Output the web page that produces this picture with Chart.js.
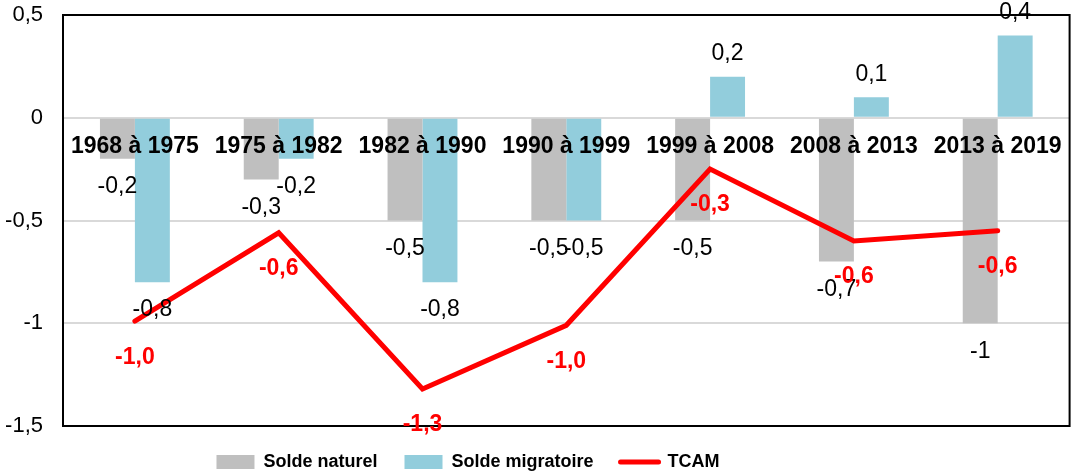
<!DOCTYPE html>
<html>
<head>
<meta charset="utf-8">
<script src="https://cdn.jsdelivr.net/npm/chart.js@4"></script>
<style>
html,body{margin:0;padding:0;background:#fff;}
#wrap{width:1077px;height:476px;position:relative;}
</style>
</head>
<body>
<div id="wrap"><canvas id="c"></canvas></div>
<script>
const categories = ['1968 à 1975','1975 à 1982','1982 à 1990','1990 à 1999','1999 à 2008','2008 à 2013','2013 à 2019'];
const soldeNaturel = [-0.2, -0.3, -0.5, -0.5, -0.5, -0.7, -1];
const soldeMigratoire = [-0.8, -0.2, -0.8, -0.5, 0.2, 0.1, 0.4];
const tcam = [-0.99, -0.56, -1.32, -1.01, -0.25, -0.60, -0.55];
const yTicks = [0.5, 0, -0.5, -1, -1.5];

const FONT = "'Liberation Sans', Arial, sans-serif";
const fmtGeneral = v => String(v).replace('.', ',');
const fmtOne = v => v.toFixed(1).replace('.', ',');

const labelPlugin = {
  id: 'labels',
  afterLayout(chart) {
    const lg = chart.legend;
    if (lg) { lg.left -= 68; lg.right -= 68; }
  },
  afterDraw(chart) {
    const ctx = chart.ctx;
    const a = chart.chartArea;
    ctx.save();
    ctx.strokeStyle = '#000';
    ctx.lineWidth = 2;
    ctx.strokeRect(a.left, a.top, a.right - a.left, a.bottom - a.top);
    ctx.textAlign = 'center';
    ctx.textBaseline = 'middle';
    chart.data.datasets.forEach((ds, di) => {
      const meta = chart.getDatasetMeta(di);
      meta.data.forEach((el, i) => {
        const v = ds.data[i];
        if (ds.type === 'line') {
          ctx.font = 'bold 23px ' + FONT;
          ctx.fillStyle = '#ff0000';
          ctx.fillText(fmtOne(v), el.x, el.y + 36);
        } else {
          ctx.font = '23px ' + FONT;
          ctx.fillStyle = '#000';
          const y = v < 0 ? el.y + 28 : el.y - 23;
          ctx.fillText(fmtGeneral(v), el.x, y);
        }
      });
    });
    ctx.restore();
  }
};

new Chart(document.getElementById('c'), {
  type: 'bar',
  data: {
    labels: categories,
    datasets: [
      { label: 'Solde naturel', data: soldeNaturel, backgroundColor: '#bfbfbf', categoryPercentage: 0.486, barPercentage: 1 },
      { label: 'Solde migratoire', data: soldeMigratoire, backgroundColor: '#92cddc', categoryPercentage: 0.486, barPercentage: 1 },
      { type: 'line', label: 'TCAM', data: tcam, borderColor: '#ff0000', backgroundColor: '#ff0000', borderWidth: 5, pointRadius: 0, pointHoverRadius: 0, borderCapStyle: 'round', borderJoinStyle: 'miter', tension: 0, order: -1 }
    ]
  },
  options: {
    responsive: true,
    maintainAspectRatio: false,
    animation: false,
    events: [],
    layout: { padding: { left: 0, right: 5, top: 15, bottom: -5 } },
    plugins: {
      tooltip: { enabled: false },
      legend: {
        position: 'bottom',
        labels: {
          font: { family: FONT, size: 18, weight: 'bold' },
          color: '#000',
          usePointStyle: true,
          pointStyleWidth: 38,
          boxHeight: 14,
          padding: 27,
          generateLabels(chart) {
            return chart.data.datasets.map((ds, i) => ({
              text: ds.label,
              fillStyle: ds.type === 'line' ? '#ff0000' : ds.backgroundColor,
              strokeStyle: ds.type === 'line' ? '#ff0000' : ds.backgroundColor,
              lineWidth: ds.type === 'line' ? 5 : 0,
              pointStyle: ds.type === 'line' ? 'line' : 'rect',
              lineCap: 'round',
              datasetIndex: i,
              hidden: false
            }));
          }
        }
      }
    },
    scales: {
      x: {
        position: { y: 0 },
        grid: { display: false, drawTicks: false },
        border: { display: false },
        ticks: { z: 1, font: { family: FONT, size: 23, weight: 'bold' }, color: '#000', padding: 15, autoSkip: false, maxRotation: 0 }
      },
      y: {
        min: -1.5, max: 0.5,
        afterBuildTicks(scale) { scale.ticks = yTicks.map(v => ({ value: v })); },
        afterFit(scale) { scale.width = 63; scale.paddingTop = 12; scale.paddingBottom = 12; },
        grid: { color: ctx => (ctx.tick && (ctx.tick.value === 0.5 || ctx.tick.value === -1.5)) ? 'rgba(0,0,0,0)' : '#d9d9d9', lineWidth: 2, drawTicks: false },
        border: { display: false },
        ticks: { font: { family: FONT, size: 22 }, color: '#000', padding: 20, callback: v => fmtGeneral(v) }
      }
    }
  },
  plugins: [labelPlugin]
});
</script>
</body>
</html>
